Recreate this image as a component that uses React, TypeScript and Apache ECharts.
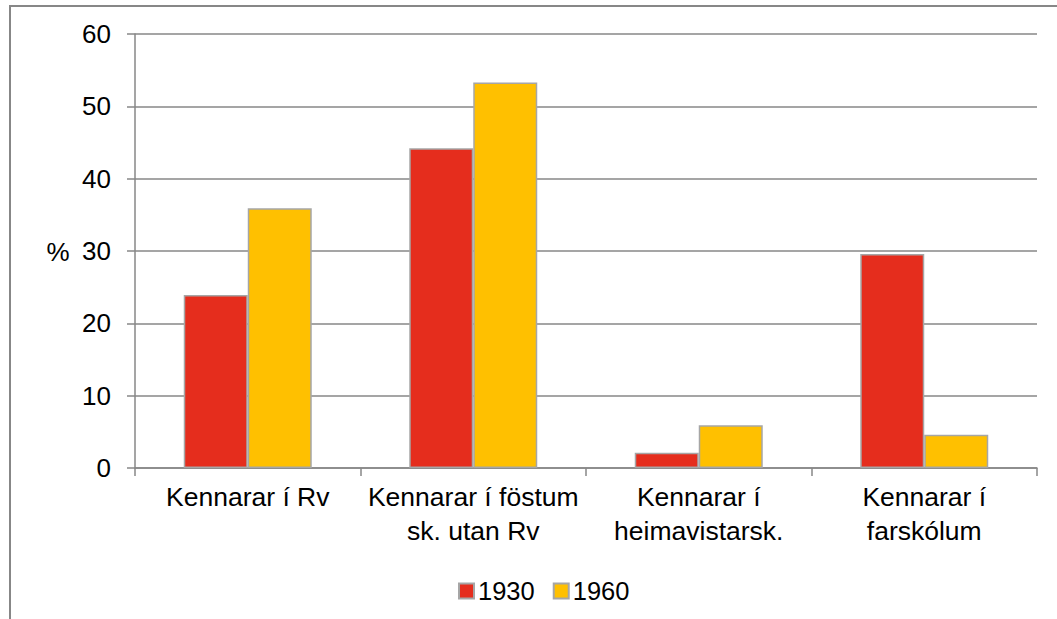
import React, { useEffect, useRef } from "react";
import * as echarts from "echarts";

const categories = [
  "Kennarar í Rv",
  "Kennarar í föstum\nsk. utan Rv",
  "Kennarar í\nheimavistarsk.",
  "Kennarar í\nfarskólum",
];
const values1930 = [23.9, 44.2, 2.1, 29.6];
const values1960 = [35.9, 53.3, 5.9, 4.6];
const seriesNames = ["1930", "1960"];
const yTicks = { min: 0, max: 60, interval: 10 };

const FONT = "'Liberation Sans', Arial, sans-serif";
const GRID = "#878787";
const BORDER = "#A6A6A6";

export default function App() {
  const ref = useRef<HTMLDivElement>(null);
  useEffect(() => {
    if (!ref.current) return;
    const chart = echarts.init(ref.current, null, { renderer: "svg" });
    chart.setOption({
      animation: false,
      backgroundColor: "#fff",
      textStyle: { fontFamily: FONT },
      grid: { left: 135, right: 20, top: 34, bottom: 151, containLabel: false },
      graphic: [
        {
          type: "rect",
          shape: { x: 9, y: 5, width: 1048, height: 2 },
          style: { fill: GRID },
          silent: true,
        },
        {
          type: "rect",
          shape: { x: 9, y: 5, width: 2, height: 614 },
          style: { fill: GRID },
          silent: true,
        },
        {
          type: "text",
          x: 58,
          y: 252,
          style: {
            text: "%",
            fontSize: 26,
            fontFamily: FONT,
            fill: "#000",
            align: "center",
            verticalAlign: "middle",
          },
        },
      ],
      legend: {
        data: seriesNames,
        left: 453,
        top: 573,
        itemWidth: 15,
        itemHeight: 15,
        itemGap: 18,
        icon: "rect",
        textStyle: { fontSize: 25.5, fontFamily: FONT, color: "#000", padding: [0, 0, 0, -1] },
      },
      xAxis: {
        type: "category",
        data: categories,
        boundaryGap: true,
        axisLine: { show: true, lineStyle: { color: GRID, width: 1.5 } },
        axisTick: { show: true, length: 8, inside: false, lineStyle: { color: GRID, width: 1.5 } },
        axisLabel: {
          fontSize: 26.5,
          fontFamily: FONT,
          color: "#000",
          lineHeight: 34,
          margin: 12,
          interval: 0,
        },
        splitLine: { show: false },
      },
      yAxis: {
        type: "value",
        min: yTicks.min,
        max: yTicks.max,
        interval: yTicks.interval,
        axisLine: { show: true, lineStyle: { color: GRID, width: 1.5 } },
        axisTick: { show: true, length: 8, inside: false, lineStyle: { color: GRID, width: 1.5 } },
        axisLabel: { fontSize: 26, fontFamily: FONT, color: "#000", margin: 24 },
        splitLine: { show: true, lineStyle: { color: GRID, width: 1.5 } },
      },
      series: [
        {
          name: seriesNames[0],
          type: "bar",
          data: values1930,
          barWidth: 64,
          barGap: "0%",
          itemStyle: { color: "#E52D1D", borderColor: BORDER, borderWidth: 1.5 },
        },
        {
          name: seriesNames[1],
          type: "bar",
          data: values1960,
          barWidth: 64,
          barGap: "0%",
          itemStyle: { color: "#FFC000", borderColor: BORDER, borderWidth: 1.5 },
        },
      ],
    });
    return () => chart.dispose();
  }, []);
  return (
    <div
      ref={ref}
      style={{ position: "fixed", left: 0, top: 0, width: 1057, height: 619 }}
    />
  );
}
